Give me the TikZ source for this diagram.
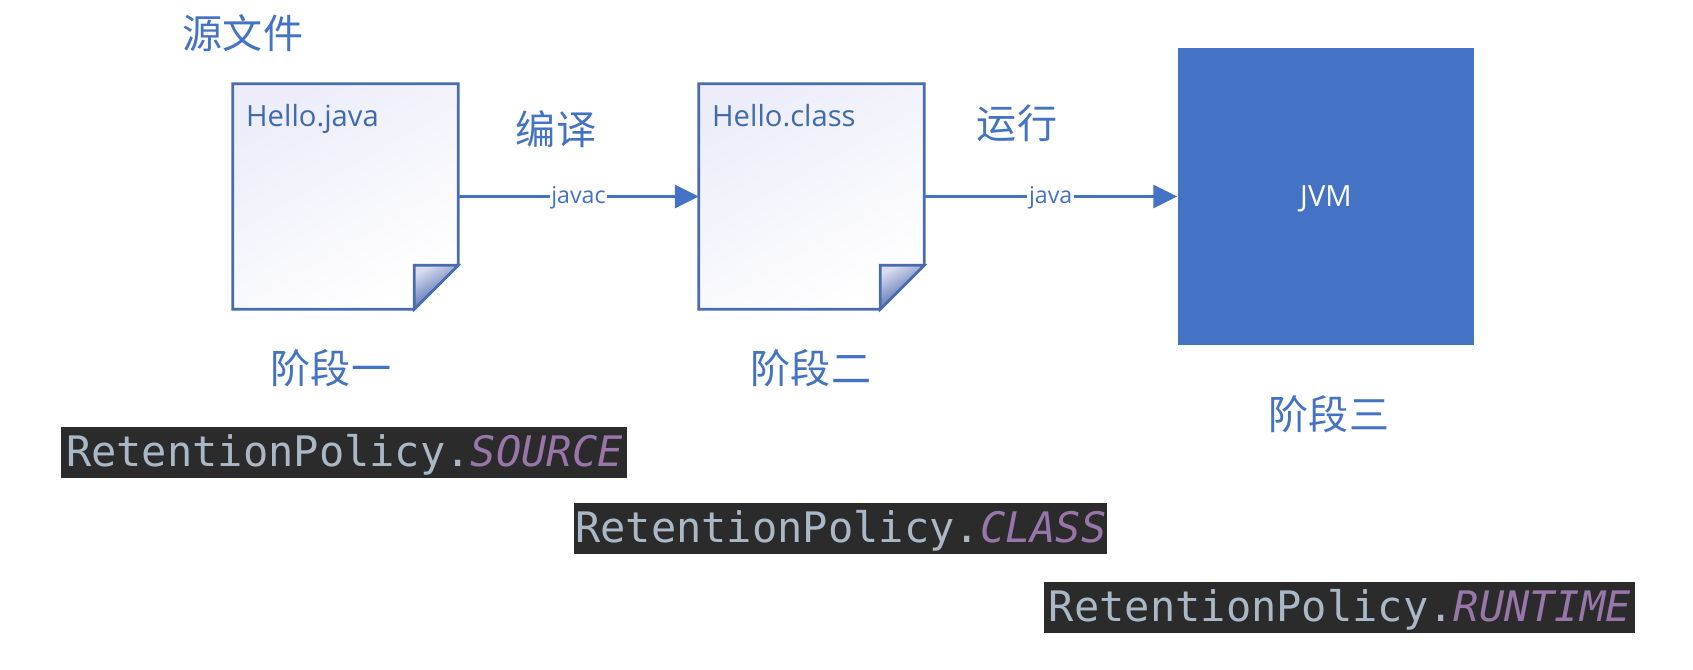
\documentclass[tikz,border=0pt]{standalone}
\usepackage{fontspec}
\usetikzlibrary{arrows.meta,calc}
\setmainfont{Open Sans}
\setmonofont{DejaVu Sans Mono}
\newfontfamily\cjk{Noto Sans CJK SC}
\definecolor{officeblue}{HTML}{4472C4}
\definecolor{noteline}{HTML}{4A6CAE}
\definecolor{notetext}{HTML}{3F6AB0}
\definecolor{notetint}{HTML}{ECEDF9}
\definecolor{folddark}{HTML}{2F4F9F}
\definecolor{foldlight}{HTML}{D8DCEE}
\definecolor{codebg}{HTML}{2B2B2B}
\definecolor{codetext}{HTML}{A9B7C6}
\definecolor{codeconst}{HTML}{9876AA}

\tikzset{
	notebox/.style={minimum width=224*0.2845pt, minimum height=224*0.2845pt, inner sep=0pt},
	filename/.style={text=notetext, inner sep=0pt, anchor=base west, font=\fontsize{8.3}{10}\selectfont},
	stage/.style={text=officeblue, inner sep=0pt, font=\cjk\fontsize{11.4}{14}\selectfont},
	flow/.style={-{Triangle[length=6.8pt, width=6.6pt]}, officeblue, line width=0.75pt},
	tool/.style={midway, fill=white, text=officeblue, inner sep=0.5pt, yshift=-0.3pt, font=\fontsize{6.6}{8}\selectfont},
	policy/.style={fill=codebg, text=codetext, inner sep=0pt, anchor=north west, minimum height=51*0.2845pt, text height=11.2pt, text depth=3.1pt, align=left, font=\ttfamily\fontsize{11.95}{14}\selectfont}
}
\newcommand{\pagefold}[1]{
	\draw[noteline, line width=0.75pt, shading=axis, top color=notetint, middle color=white, bottom color=white, shading angle=30]
		(#1.north west) -- (#1.north east) -- ($(#1.south east)+(0,-44)$) -- ($(#1.south east)+(-44,0)$) -- (#1.south west) -- cycle;
	\draw[noteline, line width=0.75pt, shading=axis, top color=foldlight, middle color=folddark, bottom color=folddark, shading angle=30]
		($(#1.south east)+(-44,-44)$) -- ($(#1.south east)+(0,-44)$) -- ($(#1.south east)+(-44,0)$) -- cycle;
}

\begin{document}
\begin{tikzpicture}[x=0.01cm, y=-0.01cm]
	\useasboundingbox (0, 0) rectangle (1693, 669);

	\node[notebox] (source) at (345.5, 196.5) {};
	\node[notebox] (compiled) at (811.5, 196.5) {};
	\pagefold{source}
	\pagefold{compiled}
	\node[filename] (sourcename) at (245.5, 126.5) {Hello.java};
	\node[filename] (compiledname) at (711.5, 126.5) {Hello.class};

	\node[fill=officeblue, text=white, minimum width=296*0.2845pt, minimum height=296*0.2845pt, inner sep=0pt, text height=5.9pt, text depth=0pt, font=\fontsize{8.3}{10}\selectfont] (jvm) at (1326, 196.5) {JVM};

	\draw[flow] (source.east) -- (compiled.west) node[tool] (javac) {javac};
	\draw[flow] (compiled.east) -- (jvm.west) node[tool] (java) {java};

	\node[stage] (origin) at (243, 33) {源文件};
	\node[stage] (compile) at (556, 129) {编译};
	\node[stage] (run) at (1017, 123) {运行};
	\node[stage] (first) at (331, 368) {阶段一};
	\node[stage] (second) at (811, 368) {阶段二};
	\node[stage] (third) at (1329, 414) {阶段三};

	\node[policy, minimum width=566*0.2845pt] (sourcepolicy) at (60, 426) {\hspace{0.3pt}RetentionPolicy.\textcolor{codeconst}{\textit{SOURCE}}};
	\node[policy, minimum width=533*0.2845pt] (classpolicy) at (573, 502) {\hspace{0.3pt}RetentionPolicy.\textcolor{codeconst}{\textit{CLASS}}};
	\node[policy, minimum width=591*0.2845pt] (runtimepolicy) at (1043, 581) {\hspace{0.3pt}RetentionPolicy.\textcolor{codeconst}{\textit{RUNTIME}}};
\end{tikzpicture}
\end{document}
